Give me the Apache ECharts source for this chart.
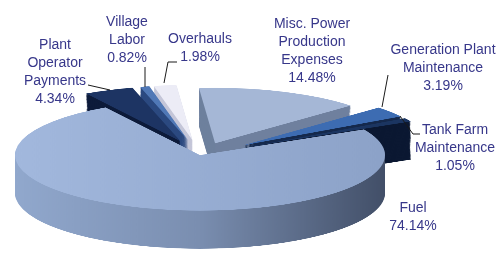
<!DOCTYPE html>
<html>
<head>
<meta charset="utf-8">
<script src="https://cdn.jsdelivr.net/npm/echarts@6/dist/echarts.min.js"></script>
<style>
html,body{margin:0;padding:0;background:#fff;}
#wrap{position:relative;width:500px;height:253px;overflow:hidden;}
/* pie is drawn round, then squashed to look tilted */
#pie{position:absolute;left:0;top:0;width:500px;height:843px;transform:scaleY(0.3);transform-origin:0 0;}
#labels{position:absolute;left:0;top:0;width:500px;height:253px;}
</style>
</head>
<body>
<div id="wrap"><div id="pie"></div><div id="labels"></div></div>
<script>
var categories = ['Misc. Power\nProduction\nExpenses', 'Generation Plant\nMaintenance', 'Tank Farm\nMaintenance', 'Fuel', 'Plant\nOperator\nPayments', 'Village\nLabor', 'Overhauls'];
var values = [14.48, 3.19, 1.05, 74.14, 4.34, 0.82, 1.98];

var topColors = ['#a5b7d6', '#3d6cb2', '#1b3561', null, '#1d3463', '#5078b6', '#ececf6'];
var sideColors = ['#6f809e', '#15294c', '#0b1832', null, '#0d1b3a', '#2c4a80', '#c4c6d8'];
var explode = [42, 54, 54, 0, 50, 50, 50];

var labelPos = [[312, 15], [443, 41], [455, 121], [413, 199], [55, 36], [127, 13], [200, 30]];
var leaders = [null, [[388, 75], [382, 107]], [[420, 134], [413, 134], [400, 116]], null,
  [[88, 85], [110, 90]], [[145, 67], [145, 87]], [[177, 62], [168, 62], [164, 83]]];

var cx = 200, cy = 517, radius = 185, depth = 127, steps = 40;

var fuelTop = new echarts.graphic.LinearGradient(0, 0, 1, 0, [
  {offset: 0, color: '#a2b8dd'}, {offset: 1, color: '#8ca2c8'}]);
var fuelSide = new echarts.graphic.LinearGradient(0, 0, 1, 0, [
  {offset: 0, color: '#91a8cd'}, {offset: 0.5, color: '#7a8eb0'}, {offset: 1, color: '#424f68'}]);

var pieChart = echarts.init(document.getElementById('pie'), null, {renderer: 'canvas'});
var groups = [];
explode.forEach(function (o) { if (groups.indexOf(o) < 0) groups.push(o); });
var series = [];
for (var k = steps; k >= 0; k--) {
  groups.forEach(function (off) {
    var data = values.map(function (v, i) {
      var own = explode[i] === off;
      var col;
      if (i === 3) col = k === 0 ? fuelTop : fuelSide;
      else col = k === 0 ? topColors[i] : sideColors[i];
      return {
        name: categories[i],
        value: v,
        selected: own && off > 0,
        itemStyle: {color: own ? col : 'rgba(0,0,0,0)'}
      };
    });
    series.push({
      type: 'pie',
      center: [cx, cy + depth * k / steps],
      radius: radius,
      startAngle: 95,
      selectedMode: 'multiple',
      selectedOffset: off,
      silent: true,
      animation: false,
      label: {show: false},
      labelLine: {show: false},
      emphasis: {disabled: true},
      data: data
    });
  });
}
pieChart.setOption({animation: false, series: series});

// labels on a second, unsquashed layer
var labelChart = echarts.init(document.getElementById('labels'));
var graphic = [];
categories.forEach(function (c, i) {
  graphic.push({
    type: 'text',
    silent: true,
    style: {
      text: c + '\n' + values[i].toFixed(2) + '%',
      x: labelPos[i][0],
      y: labelPos[i][1],
      textAlign: 'center',
      textVerticalAlign: 'top',
      font: '14px "Liberation Sans", Arial, sans-serif',
      lineHeight: 18,
      fill: '#37378a'
    }
  });
  if (leaders[i]) {
    graphic.push({
      type: 'polyline',
      silent: true,
      shape: {points: leaders[i]},
      style: {stroke: '#1a1a1a', lineWidth: 1, fill: null}
    });
  }
});
labelChart.setOption({animation: false, graphic: graphic});
</script>
</body>
</html>
